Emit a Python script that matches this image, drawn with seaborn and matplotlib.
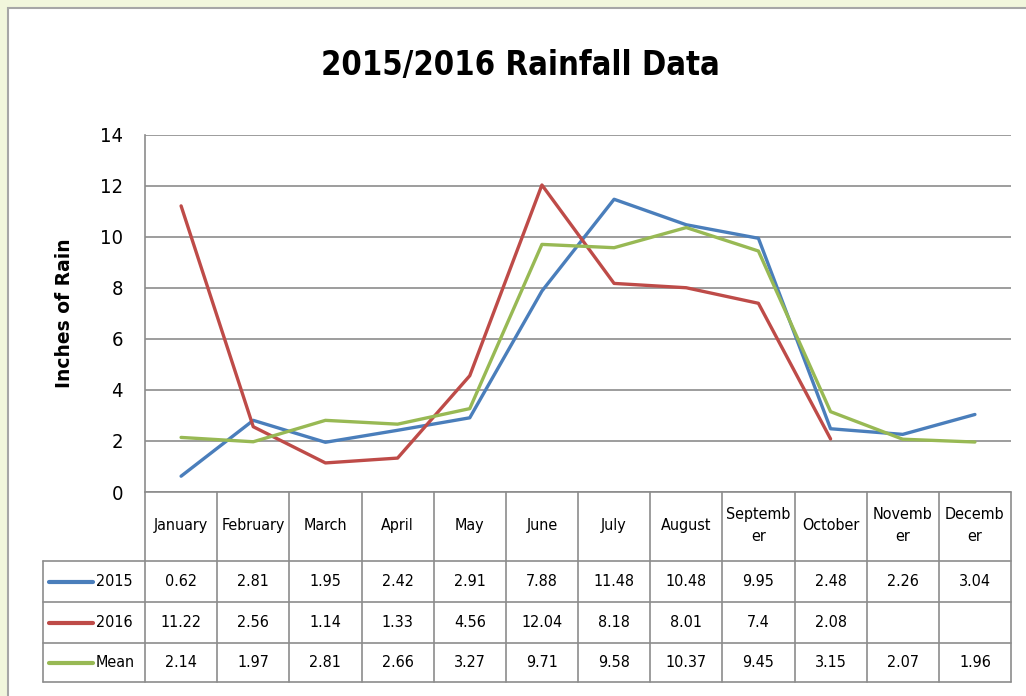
import numpy as np
import pandas as pd
import matplotlib
matplotlib.use('Agg')
import matplotlib.pyplot as plt
import seaborn as sns
from matplotlib.patches import Rectangle
from matplotlib.lines import Line2D

months = ['January', 'February', 'March', 'April', 'May', 'June', 'July',
          'August', 'September', 'October', 'November', 'December']
month_labels = ['January', 'February', 'March', 'April', 'May', 'June', 'July',
                'August', 'Septemb\ner', 'October', 'Novemb\ner', 'Decemb\ner']
rain_2015 = [0.62, 2.81, 1.95, 2.42, 2.91, 7.88, 11.48, 10.48, 9.95, 2.48, 2.26, 3.04]
rain_2016 = [11.22, 2.56, 1.14, 1.33, 4.56, 12.04, 8.18, 8.01, 7.4, 2.08, np.nan, np.nan]
rain_mean = [2.14, 1.97, 2.81, 2.66, 3.27, 9.71, 9.58, 10.37, 9.45, 3.15, 2.07, 1.96]
series_names = ['2015', '2016', 'Mean']
series_colors = {'2015': '#4a7ebb', '2016': '#be4b48', 'Mean': '#98b954'}

# long format table for seaborn
rain_df = pd.DataFrame({
    'pos': list(range(12)) * 3,
    'month': months * 3,
    'rain': rain_2015 + rain_2016 + rain_mean,
    'series': ['2015'] * 12 + ['2016'] * 12 + ['Mean'] * 12,
})

sns.set_style('white')
plt.rcParams['font.family'] = ['DejaVu Sans']
plt.rcParams['font.stretch'] = 'condensed'
plt.rcParams['text.color'] = 'black'
plt.rcParams['ytick.color'] = 'black'
plt.rcParams['axes.labelcolor'] = 'black'

W, H = 1026, 696
fig = plt.figure(figsize=(W / 100, H / 100), dpi=100)
fig.patch.set_facecolor('#f1f6dc')

def fx(x):
    return x / W

def fy(y):
    return 1 - y / H

# white chart panel
fig.patches.append(Rectangle((fx(8), -0.1), 1.2, fy(8) + 0.1, transform=fig.transFigure,
                             facecolor='white', edgecolor='#a6a6a6', linewidth=1.5, zorder=-5))

left, right, top, bottom = 145, 1011, 135, 492
ax = fig.add_axes([fx(left), fy(bottom), fx(right - left), (bottom - top) / H])
ax.set_zorder(3)
ax.set_facecolor('none')

sns.lineplot(data=rain_df, x='pos', y='rain', hue='series', palette=series_colors,
             linewidth=2.4, legend=False, ax=ax)

ax.set_xlim(-0.5, 11.5)
ax.set_ylim(0, 14)
ax.set_yticks(range(0, 15, 2))
ax.set_xticks([])
ax.set_xlabel('')
ax.set_ylabel('Inches of Rain', fontsize=13.5, fontweight='bold', fontstretch='normal')
ax.yaxis.set_label_coords(-(145 - 74) / (right - left), 0.5)
ax.tick_params(axis='y', labelsize=14.5, length=0, pad=16)
ax.grid(axis='y', color='#8c8c8c', linewidth=1.2)
for side in ['top', 'right', 'bottom']:
    ax.spines[side].set_visible(False)
ax.spines['left'].set_color('#8c8c8c')
ax.spines['left'].set_linewidth(1.2)

fig.text(fx(520), fy(66), '2015/2016 Rainfall Data', ha='center', va='center',
         fontsize=23.5, fontweight='bold')

# data table under the plot
line_kw = dict(color='#8c8c8c', linewidth=1.2, transform=fig.transFigure)
row_edges = [492, 561, 602, 643, 682]
legend_left = 43
col_w = (right - left) / 12

def hline(x0, x1, y):
    fig.add_artist(Line2D([fx(x0), fx(x1)], [fy(y), fy(y)], **line_kw))

def vline(x, y0, y1):
    fig.add_artist(Line2D([fx(x), fx(x)], [fy(y0), fy(y1)], **line_kw))

hline(left, right, row_edges[0])
for y in row_edges[1:]:
    hline(legend_left, right, y)
for i in range(13):
    vline(left + i * col_w, row_edges[0], row_edges[-1])
vline(legend_left, row_edges[1], row_edges[-1])

for i, lab in enumerate(month_labels):
    fig.text(fx(left + (i + 0.5) * col_w), fy((row_edges[0] + row_edges[1]) / 2 - 1), lab,
             ha='center', va='center', fontsize=11.5, linespacing=1.6)

series_values = {'2015': rain_2015, '2016': rain_2016, 'Mean': rain_mean}
for r, name in enumerate(series_names):
    yc = (row_edges[r + 1] + row_edges[r + 2]) / 2
    fig.add_artist(Line2D([fx(49), fx(93)], [fy(yc), fy(yc)], color=series_colors[name],
                          linewidth=3, solid_capstyle='round', transform=fig.transFigure))
    fig.text(fx(96), fy(yc), name, ha='left', va='center', fontsize=11.5)
    for i, v in enumerate(series_values[name]):
        if np.isnan(v):
            continue
        fig.text(fx(left + (i + 0.5) * col_w), fy(yc), f'{v:g}',
                 ha='center', va='center', fontsize=11.5)

fig.savefig('out.png', dpi=100, facecolor=fig.get_facecolor())
